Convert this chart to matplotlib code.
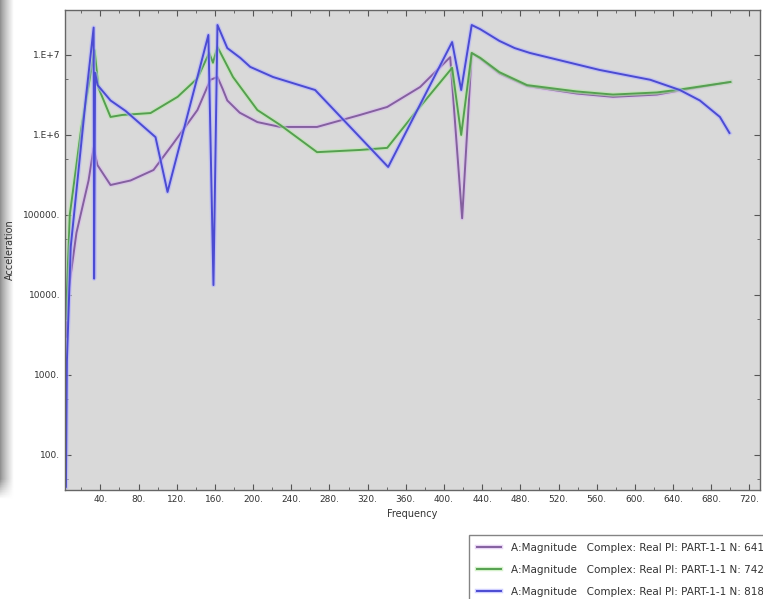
import numpy as np
import matplotlib
matplotlib.use('Agg')
import matplotlib.pyplot as plt
import matplotlib.patheffects as pe
from matplotlib.ticker import FixedLocator, FixedFormatter, MultipleLocator

# frequency / acceleration (log y)
freq_641 = [4, 7, 15, 27.7, 33, 37, 50.7, 71.7, 95.7, 116.6, 141.7, 155.3, 162.7, 168, 173, 186, 204.5,
            228.6, 267, 312, 340.5, 375, 406.5, 419, 429, 438, 458, 487, 539, 577, 623, 647, 700]
acc_641 = [3000, 12000, 60000, 2.7e5, 6.9e5, 4.2e5, 2.37e5, 2.7e5, 3.65e5, 7.9e5, 2.05e6, 4.9e6, 5.3e6,
           3.8e6, 2.7e6, 1.9e6, 1.45e6, 1.26e6, 1.26e6, 1.78e6, 2.24e6, 3.98e6, 9.4e6, 9.1e4, 1.06e7,
           9.0e6, 5.9e6, 4.1e6, 3.3e6, 3.0e6, 3.2e6, 3.6e6, 4.6e6]

freq_742 = [4, 8, 20, 34, 38, 50.7, 63, 92.6, 121, 141.7, 154, 158, 162.7, 179, 204.5, 228.6, 267,
            312, 340.5, 372, 408.5, 418, 429, 438, 458, 487, 539, 577, 623, 647, 700]
acc_742 = [5000, 1.0e5, 1.2e6, 1.15e7, 3.9e6, 1.68e6, 1.78e6, 1.88e6, 3.0e6, 5.1e6, 1.06e7, 8.0e6,
           1.26e7, 5.3e6, 2.05e6, 1.33e6, 6.1e5, 6.5e5, 6.9e5, 2.05e6, 6.9e6, 1.0e6, 1.06e7, 9.2e6,
           6.1e6, 4.2e6, 3.5e6, 3.2e6, 3.4e6, 3.7e6, 4.6e6]

freq_818 = [4, 5, 9, 25, 33, 33.5, 34.5, 37.1, 50.7, 66.4, 97.8, 110.4, 153.2, 158.5, 162.7, 173, 186.6,
            197, 221, 265, 341.5, 408.5, 418, 429, 438, 458, 474, 490, 563, 616, 647, 668, 689, 699]
acc_818 = [40, 1500, 4e4, 3e6, 2.2e7, 1.6e4, 6.0e6, 4.2e6, 2.7e6, 2.0e6, 9.4e5, 1.94e5, 1.78e7, 1.33e4,
           2.37e7, 1.22e7, 9.2e6, 7.1e6, 5.3e6, 3.65e6, 3.98e5, 1.45e7, 3.65e6, 2.37e7, 2.1e7, 1.5e7,
           1.22e7, 1.06e7, 6.5e6, 4.9e6, 3.65e6, 2.7e6, 1.68e6, 1.06e6]

series_labels = ['A:Magnitude   Complex: Real PI: PART-1-1 N: 641',
                 'A:Magnitude   Complex: Real PI: PART-1-1 N: 742',
                 'A:Magnitude   Complex: Real PI: PART-1-1 N: 818']
series_colors = ['#84609f', '#55a050', '#4b4bd2']
halo_colors = ['#d8b8ee', '#b8e8a8', '#b0b0ff']

x_ticks = list(range(40, 721, 40))
y_ticks = [100, 1000, 10000, 100000, 1e6, 1e7]
y_tick_labels = ['100.', '1000.', '10000.', '100000.', '1.E+6', '1.E+7']

fig = plt.figure(figsize=(7.63, 5.99), dpi=100)

# soft grey edge on the left, like the original window frame
shade = fig.add_axes([0, 1 - 500 / 599, 14 / 763, 500 / 599])
gx = np.linspace(0, 1, 30)
gy = np.linspace(0, 1, 200)
grad = 0.55 + 0.45 * gx[None, :] ** 0.8
grad = 1 - (1 - grad) * np.clip(gy[::-1, None] / 0.04, 0, 1)
shade.imshow(grad, cmap='gray', vmin=0, vmax=1, aspect='auto')
shade.axis('off')

ax = fig.add_axes([65 / 763, 1 - 490 / 599, 695 / 763, 480 / 599])
ax.set_facecolor('#d9d9d9')

data = [(freq_641, acc_641), (freq_742, acc_742), (freq_818, acc_818)]
for (f, a), lab, c, h in zip(data, series_labels, series_colors, halo_colors):
    ax.plot(f, a, color=c, lw=1.4, label=lab,
            path_effects=[pe.Stroke(linewidth=3.2, foreground=h, alpha=0.6), pe.Normal()])

ax.set_yscale('log')
ax.set_xlim(3, 731)
ax.set_ylim(36.5, 3.65e7)

ax.xaxis.set_major_locator(FixedLocator(x_ticks))
ax.xaxis.set_major_formatter(FixedFormatter([f'{v}.' for v in x_ticks]))
ax.xaxis.set_minor_locator(MultipleLocator(20))
ax.yaxis.set_major_locator(FixedLocator(y_ticks))
ax.yaxis.set_major_formatter(FixedFormatter(y_tick_labels))
ax.yaxis.set_minor_locator(FixedLocator([50, 500, 5000, 50000, 5e5, 5e6]))
ax.yaxis.set_minor_formatter(FixedFormatter([''] * 6))

ax.tick_params(which='both', direction='in', top=True, right=True, colors='#555555',
               labelcolor='#333333', labelsize=6.5)
ax.tick_params(which='major', length=4, width=0.8)
ax.tick_params(which='minor', length=2, width=0.6)
for s in ax.spines.values():
    s.set_color('#666666')
    s.set_linewidth(1.0)

ax.set_xlabel('Frequency', fontsize=7, color='#333333', labelpad=4)
ax.set_ylabel('Acceleration', fontsize=7, color='#333333', labelpad=6)

fig.legend(loc='upper left', bbox_to_anchor=(464 / 763, 1 - 530 / 599), fontsize=7.5,
           frameon=True, fancybox=False, edgecolor='#666666', handlelength=2.3,
           handletextpad=1.0, labelspacing=1.15, borderpad=0.75, labelcolor='#333333')

fig.savefig('out.png', dpi=100)
